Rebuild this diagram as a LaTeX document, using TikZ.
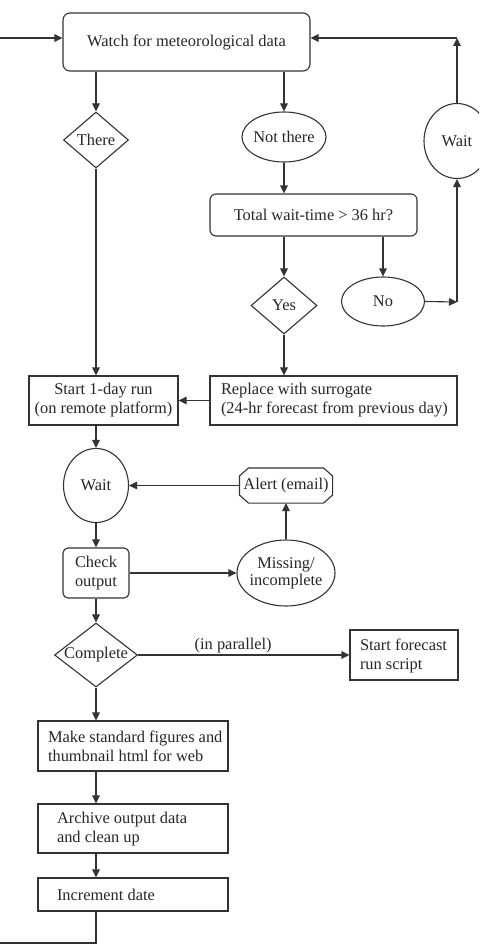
\documentclass[tikz,border=0pt]{standalone}
\usepackage{fontspec}
\setmainfont{Liberation Serif}
\usetikzlibrary{shapes.geometric,arrows.meta}
\begin{document}
\begin{tikzpicture}[x=1pt,y=-1pt,
  line width=1.1pt,
  every node/.style={font=\fontsize{16.4}{19}\selectfont, text=black!85},
  arr/.style={-{Triangle[length=8pt,width=7.5pt]}},
  box/.style={draw=black!80, rectangle, inner sep=0pt},
  rbox/.style={box, rounded corners=7pt},
  ell/.style={draw=black!80, ellipse, inner sep=0pt},
  dia/.style={draw=black!80, diamond, inner sep=0pt},
  txt/.style={anchor=west, align=left, inner sep=0pt},
]
\useasboundingbox (0,0) rectangle (479,947);
\clip (0,0) rectangle (479,947);

% nodes
\node[rbox, minimum width=247, minimum height=58] (watch) at (186.5,42) {Watch for meteorological data};
\node[dia, minimum width=65, minimum height=56] (there) at (96,140) {\makebox[0pt]{There}};
\node[ell, minimum width=84, minimum height=50] (notthere) at (284,137) {\makebox[0pt]{Not there}};
\node[ell, minimum width=66, minimum height=75] (wait1) at (457,141) {\makebox[0pt]{Wait}};
\node[rbox, rounded corners=6pt, minimum width=207, minimum height=42] (total) at (313.5,215) {Total wait-time > 36 hr?};
\node[dia, minimum width=66, minimum height=57] (yes) at (284,305.5) {\makebox[0pt]{Yes}};
\node[ell, minimum width=83, minimum height=49] (no) at (383,301.5) {\makebox[0pt]{No}};
\node[box, minimum width=149, minimum height=49, align=center] (start) at (103.5,400.5) {Start 1-day run\\(on remote platform)};
\node[box, minimum width=247, minimum height=49] (replace) at (333.5,400.5) {};
\node[txt] (replacetxt) at ([xshift=11pt]replace.west) {Replace with surrogate\\(24-hr forecast from previous day)};
\node[ell, minimum width=65, minimum height=74] (wait2) at (96,485.5) {\makebox[0pt]{Wait}};
\node[minimum width=92, minimum height=34, inner sep=0pt] (alert) at (286,485.5) {\makebox[0pt]{Alert (email)}};
\draw[black!80] ([xshift=9pt]alert.north west) -- ([xshift=-9pt]alert.north east)
  -- ([yshift=-8pt]alert.north east) -- ([yshift=8pt]alert.south east)
  -- ([xshift=-9pt]alert.south east) -- ([xshift=9pt]alert.south west)
  -- ([yshift=8pt]alert.south west) -- ([yshift=-8pt]alert.north west) -- cycle;
\node[rbox, rounded corners=5pt, minimum width=66, minimum height=50, align=center] (check) at (96,573) {Check\\output};
\node[ell, minimum width=98, minimum height=66] (missing) at (286,573) {\makebox[0pt]{\begin{tabular}{@{}c@{}}Missing/\\[-2pt]incomplete\end{tabular}}};
\node[dia, minimum width=83, minimum height=64] (complete) at (96,655) {\makebox[0pt]{Complete}};
\node[box, minimum width=108, minimum height=50] (forecast) at (404,655) {};
\node[txt] (forecasttxt) at ([xshift=10pt,yshift=-1pt]forecast.west) {Start forecast\\run script};
\node[box, minimum width=190, minimum height=50] (make) at (133,746) {};
\node[txt] (maketxt) at ([xshift=10pt]make.west) {Make standard figures and\\thumbnail html for web};
\node[box, minimum width=190, minimum height=49] (archive) at (133,828.5) {};
\node[txt] (archivetxt) at ([xshift=19pt,yshift=-1pt]archive.west) {Archive output data\\and clean up};
\node[box, minimum width=190, minimum height=33] (increment) at (133,894.5) {};
\node[txt] (incrementtxt) at ([xshift=19pt]increment.west) {Increment date};

% coordinates
\coordinate (inL) at (0,38);
\coordinate (topR) at (457,38);
\coordinate (noR) at (457,302);
\coordinate (botM) at (96,943);
\coordinate (botL) at (0,943);

% connectors
\begin{scope}[draw=black!80]
\draw[arr] (inL) -- (inL -| watch.west);
\draw[arr] (there.north |- watch.south) -- (there.north);
\draw[arr] (notthere.north |- watch.south) -- (notthere.north);
\draw[arr] (notthere.south) -- (notthere.south |- total.north);
\draw[arr] (yes.north |- total.south) -- (yes.north);
\draw[arr] (no.north |- total.south) -- (no.north);
\draw[arr] (no.east) -- (noR);
\draw[arr] (noR) -- (wait1.south);
\draw[arr] (wait1.north) -- (topR);
\draw[arr] (topR) -- (topR -| watch.east);
\draw[arr] (there.south) -- (there.south |- start.north);
\draw[arr] (yes.south) -- (yes.south |- replace.north);
\draw[arr] (replace.west) -- (start.east);
\draw[arr] (wait2.north |- start.south) -- (wait2.north);
\draw[arr] (alert.west) -- (wait2.east);
\draw[arr] (wait2.south) -- (check.north);
\draw[arr] (check.east) -- (missing.west);
\draw[arr] (missing.north) -- (alert.south);
\draw[arr] (check.south) -- (complete.north);
\draw[arr] (complete.east) -- node[pos=0.45, above, inner sep=1pt] (parallel) {(in parallel)} (forecast.west);
\draw[arr] (complete.south) -- (complete.south |- make.north);
\draw[arr] (make.south -| complete.south) -- (archive.north -| complete.south);
\draw[arr] (archive.south -| complete.south) -- (increment.north -| complete.south);
\draw (increment.south -| complete.south) -- (botM) -- (botL);
\end{scope}
\end{tikzpicture}
\end{document}
